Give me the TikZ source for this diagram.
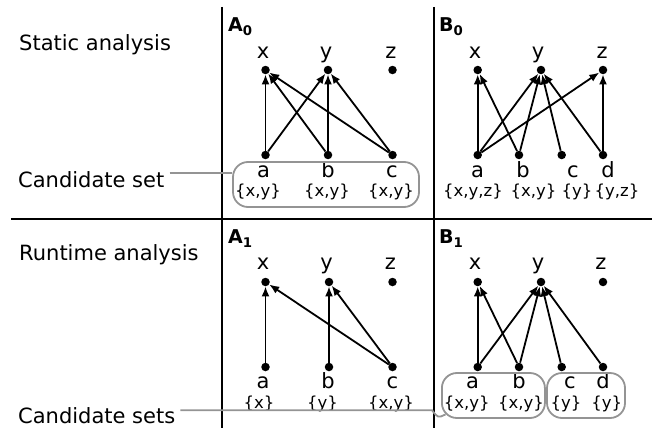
\documentclass[tikz,border=0pt]{standalone}
\usepackage{fontspec}
\setmainfont{DejaVu Sans}
\usetikzlibrary{arrows.meta}
\tikzset{
  vdot/.style={circle,fill=black,inner sep=0pt,minimum size=8.5pt},
  big/.style={inner sep=0pt,anchor=base,font=\fontsize{21}{25}\selectfont},
  side/.style={inner sep=0pt,anchor=base west,font=\fontsize{21}{25}\selectfont},
  small/.style={inner sep=0pt,anchor=base,font=\fontsize{16.5}{20}\selectfont},
  cell/.style={inner sep=0pt,anchor=base west,font=\fontsize{19}{23}\selectfont\bfseries},
  edge/.style={-{Latex[length=10pt,width=8pt]},line width=1.8pt},
  frame/.style={line width=2pt},
  cbox/.style={draw=black!42,rounded corners=15pt,line width=1.8pt},
  cline/.style={draw=black!42,line width=1.8pt}
}
\begin{document}
\begin{tikzpicture}[x=1pt,y=-1pt]
\useasboundingbox (0,0) rectangle (652,428);
% frame
\draw[frame] (222,7) -- (222,428);
\draw[frame] (433.5,7) -- (433.5,428);
\draw[frame] (11,218.5) -- (652,218.5);
% side labels
\node[side] (sa) at (19,50.5) {Static analysis};
\node[side] (ra) at (19,260.5) {Runtime analysis};
\node[side] (cs) at (18,187) {Candidate set};
\node[side] (css) at (18,423) {Candidate sets};
% cell labels
\node[cell] (A0) at (228,31.5) {A$_{\mathbf{0}}$};
\node[cell] (B0) at (439,31.5) {B$_{\mathbf{0}}$};
\node[cell] (A1) at (228,243.5) {A$_{\mathbf{1}}$};
\node[cell] (B1) at (439,243.5) {B$_{\mathbf{1}}$};

% ===== A0 =====
\node[vdot] (a0x) at (265.5,70) {};
\node[vdot] (a0y) at (328,70) {};
\node[vdot] (a0z) at (392.5,70) {};
\node[vdot] (a0a) at (265.5,155) {};
\node[vdot] (a0b) at (328,155) {};
\node[vdot] (a0c) at (392.5,155) {};
\node[big] (a0xl) at (263,58) {x};
\node[big] (a0yl) at (326,58) {y};
\node[big] (a0zl) at (391,58) {z};
\node[big] (a0al) at (263.5,177) {a};
\node[big] (a0bl) at (328,177) {b};
\node[big] (a0cl) at (392,177) {c};
\node[small] (a0as) at (258,196.5) {\{x,y\}};
\node[small] (a0bs) at (327,196.5) {\{x,y\}};
\node[small] (a0cs) at (391,196.5) {\{x,y\}};
\draw[edge] (a0a) -- (a0x);
\draw[edge] (a0a) -- (a0y);
\draw[edge] (a0b) -- (a0x);
\draw[edge] (a0b) -- (a0y);
\draw[edge] (a0c) -- (a0x);
\draw[edge] (a0c) -- (a0y);
\node[cbox,minimum width=186pt,minimum height=45pt] (boxA0) at (326,184.5) {};
\draw[cline] (cs.east) ++(5,-6.5) coordinate (csend) -- (csend -| boxA0.west);

% ===== B0 =====
\node[vdot] (b0x) at (477.7,70) {};
\node[vdot] (b0y) at (541,70) {};
\node[vdot] (b0z) at (603,70) {};
\node[vdot] (b0a) at (477.7,155) {};
\node[vdot] (b0b) at (519,155) {};
\node[vdot] (b0c) at (561.7,155) {};
\node[vdot] (b0d) at (603,155) {};
\node[big] (b0xl) at (475,58) {x};
\node[big] (b0yl) at (538,58) {y};
\node[big] (b0zl) at (602,58) {z};
\node[big] (b0al) at (477.5,177) {a};
\node[big] (b0bl) at (523,177) {b};
\node[big] (b0cl) at (573,177) {c};
\node[big] (b0dl) at (608,177) {d};
\node[small] (b0as) at (473,196.5) {\{x,y,z\}};
\node[small] (b0bs) at (533.5,196.5) {\{x,y\}};
\node[small] (b0cs) at (577,196.5) {\{y\}};
\node[small] (b0ds) at (617,196.5) {\{y,z\}};
\draw[edge] (b0a) -- (b0x);
\draw[edge] (b0a) -- (b0y);
\draw[edge] (b0a) -- (b0z);
\draw[edge] (b0b) -- (b0x);
\draw[edge] (b0b) -- (b0y);
\draw[edge] (b0c) -- (b0y);
\draw[edge] (b0d) -- (b0y);
\draw[edge] (b0d) -- (b0z);

% ===== A1 =====
\node[vdot] (a1x) at (265.5,282) {};
\node[vdot] (a1y) at (329,282) {};
\node[vdot] (a1z) at (392.5,282) {};
\node[vdot] (a1a) at (265.5,367) {};
\node[vdot] (a1b) at (329,367) {};
\node[vdot] (a1c) at (392.5,367) {};
\node[big] (a1xl) at (263,269.5) {x};
\node[big] (a1yl) at (326.5,269.5) {y};
\node[big] (a1zl) at (390.5,269.5) {z};
\node[big] (a1al) at (263,388.5) {a};
\node[big] (a1bl) at (328,388.5) {b};
\node[big] (a1cl) at (392.5,388.5) {c};
\node[small] (a1as) at (259,408) {\{x\}};
\node[small] (a1bs) at (322.5,408) {\{y\}};
\node[small] (a1cs) at (391,408) {\{x,y\}};
\draw[edge] (a1a) -- (a1x);
\draw[edge] (a1b) -- (a1y);
\draw[edge] (a1c) -- (a1x);
\draw[edge] (a1c) -- (a1y);

% ===== B1 =====
\node[vdot] (b1x) at (477.7,282) {};
\node[vdot] (b1y) at (541,282) {};
\node[vdot] (b1z) at (603,282) {};
\node[vdot] (b1a) at (477.7,367) {};
\node[vdot] (b1b) at (519,367) {};
\node[vdot] (b1c) at (561.7,367) {};
\node[vdot] (b1d) at (603,367) {};
\node[big] (b1xl) at (475,269.5) {x};
\node[big] (b1yl) at (538,269.5) {y};
\node[big] (b1zl) at (601,269.5) {z};
\node[big] (b1al) at (472.5,388.5) {a};
\node[big] (b1bl) at (519,388.5) {b};
\node[big] (b1cl) at (570,388.5) {c};
\node[big] (b1dl) at (603,388.5) {d};
\node[small] (b1as) at (466.7,408) {\{x,y\}};
\node[small] (b1bs) at (521,408) {\{x,y\}};
\node[small] (b1cs) at (566,408) {\{y\}};
\node[small] (b1ds) at (606.7,408) {\{y\}};
\draw[edge] (b1a) -- (b1x);
\draw[edge] (b1a) -- (b1y);
\draw[edge] (b1b) -- (b1x);
\draw[edge] (b1b) -- (b1y);
\draw[edge] (b1c) -- (b1y);
\draw[edge] (b1d) -- (b1y);
\node[cbox,minimum width=103pt,minimum height=45pt] (boxB1a) at (493.4,395.5) {};
\node[cbox,minimum width=78pt,minimum height=45pt] (boxB1b) at (586,395.5) {};
\coordinate (cssjoin) at ([xshift=4.5pt,yshift=4.5pt]boxB1a.south west);
\draw[cline] (css.east) ++(5,-5) coordinate (cssend) -- (cssend -| 432,0) .. controls (438,418) .. (cssjoin);
\end{tikzpicture}
\end{document}
